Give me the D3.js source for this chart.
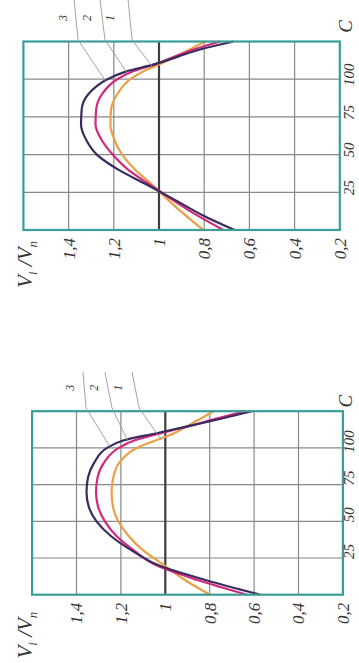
<!DOCTYPE html>
<html>
<head>
<meta charset="utf-8">
<script src="https://cdn.jsdelivr.net/npm/d3@7"></script>
<style>
html,body{margin:0;padding:0;background:#fff;}
svg{display:block;}
</style>
</head>
<body>
<svg id="chart" width="359" height="663"></svg>
<script>
// ---- data (C on the horizontal axis of the original figure, V_i/V_n on the vertical) ----
const cValues = [0,10,20,30,40,50,60,70,80,90,100,105,110,115,120,125];
const seriesNames = ["1","2","3"];
const top1 = [0.804,0.885,0.960,1.030,1.105,1.163,1.198,1.215,1.212,1.185,1.127,1.072,0.995,0.925,0.860,0.795];
const top2 = [0.715,0.835,0.940,1.040,1.137,1.205,1.255,1.281,1.278,1.253,1.185,1.120,1.015,0.930,0.840,0.730];
const top3 = [0.665,0.810,0.930,1.053,1.180,1.275,1.323,1.345,1.342,1.313,1.228,1.147,1.018,0.916,0.811,0.670];
const bot1 = [0.799,0.912,1.005,1.098,1.165,1.212,1.236,1.242,1.234,1.207,1.128,1.045,0.960,0.900,0.840,0.784];
const bot2 = [0.633,0.855,1.040,1.140,1.220,1.272,1.303,1.312,1.305,1.276,1.210,1.140,1.020,0.890,0.770,0.640];
const bot3 = [0.573,0.820,1.030,1.150,1.245,1.310,1.345,1.355,1.348,1.320,1.262,1.190,1.040,0.890,0.745,0.610];
const cTicks = [25,50,75,100];
const vTicks = [0.2,0.4,0.6,0.8,1.0,1.2,1.4];
const vTickLabels = ["0,2","0,4","0,6","0,8","1","1,2","1,4"];
const cDomain = [0,125];
const vDomain = [0.2,1.6];
// curve-number callouts (label point and leader polyline, in data units C / V)
const topCallouts = [
  {name:"3", label:[140.6,1.425], line:[[153,1.376],[126,1.358],[99,1.237]]},
  {name:"2", label:[140.6,1.319], line:[[153,1.261],[126,1.239],[104,1.140]]},
  {name:"1", label:[140.6,1.217], line:[[153,1.137],[126,1.119],[108.5,1.030]]}
];
const botCallouts = [
  {name:"3", label:[140.9,1.429], line:[[151.7,1.371],[127.2,1.357],[101,1.250]]},
  {name:"2", label:[140.9,1.321], line:[[151.7,1.272],[127.2,1.240],[103.5,1.165]]},
  {name:"1", label:[140.9,1.213], line:[[151.7,1.150],[127.2,1.118],[106,1.020]]}
];

// ---- styles ----
const colors = ["#eaa045","#d3297b","#3a2a60"];
const serif = "'Liberation Serif','Times New Roman','DejaVu Serif',serif";

const panels = [
  {series:[top1,top2,top3], callouts:topCallouts,
   tx:23.4, ty:230, W:188.5, H:316.4, cPad:3.5, cShift:4, cLabU:15, cLabV:6, titleEnd:-11, titleBase:9},
  {series:[bot1,bot2,bot3], callouts:botCallouts,
   tx:32.1, ty:594.7, W:183.5, H:310.8, cPad:0.5, cShift:6, cLabU:10, cLabV:3, titleEnd:-17, titleBase:0}
];

const svg = d3.select("#chart");

panels.forEach(p => {
  const g = svg.append("g").attr("transform", `translate(${p.tx},${p.ty}) rotate(-90)`);
  const x = d3.scaleLinear().domain(cDomain).range([0, p.W]);
  const y = d3.scaleLinear().domain(vDomain).range([p.H, 0]);

  // grid: C lines
  g.append("g").selectAll("line").data(cTicks).join("line")
    .attr("x1", d => x(d)).attr("x2", d => x(d))
    .attr("y1", 0).attr("y2", p.H)
    .attr("stroke", "#888").attr("stroke-width", 1.2);
  // grid: V lines
  g.append("g").selectAll("line").data(vTicks.filter(v => v > 0.2 && v !== 1.0)).join("line")
    .attr("x1", 0).attr("x2", p.W)
    .attr("y1", d => y(d)).attr("y2", d => y(d))
    .attr("stroke", "#888").attr("stroke-width", 1.2);
  // reference line V = 1
  g.append("line")
    .attr("x1", 0).attr("x2", p.W).attr("y1", y(1)).attr("y2", y(1))
    .attr("stroke", "#3c3c3c").attr("stroke-width", 2.2);

  // curves
  const line = d3.line()
    .x((d, i) => x(cValues[i]))
    .y(d => y(d))
    .curve(d3.curveMonotoneX);
  g.append("g").selectAll("path").data(p.series).join("path")
    .attr("d", d => line(d))
    .attr("fill", "none")
    .attr("stroke", (d, i) => colors[i])
    .attr("stroke-width", 2.2)
    .attr("stroke-linejoin", "round");

  // frame
  g.append("rect").attr("x", 0).attr("y", 0).attr("width", p.W).attr("height", p.H)
    .attr("fill", "none").attr("stroke", "#3a9d97").attr("stroke-width", 2.2);

  // V axis labels
  const yAxis = d3.axisLeft(y).tickValues(vTicks).tickSize(0).tickPadding(8)
    .tickFormat((d, i) => vTickLabels[i]);
  const ya = g.append("g").call(yAxis);
  ya.select(".domain").remove();
  ya.selectAll("text").attr("font-family", serif).attr("font-style", "italic")
    .attr("font-size", 17).attr("fill", "#333");

  // C axis labels
  const xAxis = d3.axisBottom(x).tickValues(cTicks).tickSize(0).tickPadding(p.cPad)
    .tickFormat(d => String(d));
  const xa = g.append("g").attr("transform", `translate(0,${p.H})`).call(xAxis);
  xa.select(".domain").remove();
  xa.selectAll("text").attr("x", p.cShift).attr("font-family", serif).attr("font-style", "italic")
    .attr("font-size", 15).attr("fill", "#333");

  // axis name C
  g.append("text").attr("x", p.W + p.cLabU).attr("y", p.H + p.cLabV)
    .attr("text-anchor", "middle").attr("dominant-baseline", "central")
    .attr("font-family", serif).attr("font-style", "italic").attr("font-size", 19)
    .attr("fill", "#333").text("C");

  // axis name V_i / V_n
  const t = g.append("text").attr("x", p.titleEnd).attr("y", p.titleBase)
    .attr("text-anchor", "end")
    .attr("font-family", serif).attr("font-style", "italic").attr("font-size", 21)
    .attr("fill", "#333");
  t.append("tspan").text("V");
  t.append("tspan").attr("dy", 5).attr("font-size", 13).text("i");
  t.append("tspan").attr("dy", -5).text(" /V");
  t.append("tspan").attr("dy", 5).attr("font-size", 13).text("n");

  // callouts
  const cg = g.append("g");
  cg.selectAll("polyline").data(p.callouts).join("polyline")
    .attr("points", d => d.line.map(pt => [x(pt[0]), y(pt[1])].join(",")).join(" "))
    .attr("fill", "none").attr("stroke", "#999").attr("stroke-width", 0.9);
  cg.selectAll("text").data(p.callouts).join("text")
    .attr("x", d => x(d.label[0])).attr("y", d => y(d.label[1]))
    .attr("text-anchor", "middle").attr("dominant-baseline", "central")
    .attr("font-family", serif).attr("font-style", "italic").attr("font-size", 12)
    .attr("fill", "#333").text(d => d.name);
});
</script>
</body>
</html>
